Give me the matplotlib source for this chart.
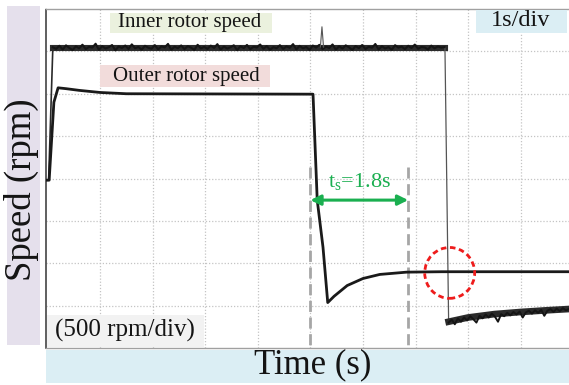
import numpy as np
import matplotlib
matplotlib.use("Agg")
import matplotlib.pyplot as plt
from matplotlib.patches import Rectangle, Ellipse

plt.rcParams['font.family'] = ['Liberation Serif', 'DejaVu Serif']
plt.rcParams['mathtext.fontset'] = 'custom'
plt.rcParams['mathtext.rm'] = 'Liberation Serif'
plt.rcParams['mathtext.it'] = 'Liberation Serif'

# ---------------- data (time in s, speed in rpm) ----------------
inner_t = [-0.03, 0.02, 0.10, 7.56, 7.63, 8.0, 8.5, 9.0, 9.5, 9.92]
inner_v = [-20, -20, 1545, 1545, -1690, -1640, -1600, -1575, -1555, -1540]

inner_run_v = [1548, 1530, 1566, 1522, 1571, 1541, 1515, 1560, 1536, 1579,
               1527, 1553, 1545, 1590, 1518, 1562, 1534, 1549, 1575, 1512,
               1558, 1540, 1569, 1528, 1583, 1537, 1551, 1520, 1566, 1543,
               1531, 1574, 1524, 1559, 1547, 1588, 1519, 1555, 1538, 1570,
               1526, 1562, 1544, 1516, 1578, 1535, 1553, 1529, 1568, 1541,
               1585, 1521, 1557, 1533, 1549, 1572, 1514, 1561, 1539, 1576,
               1525, 1555, 1546, 1581, 1530, 1563, 1518, 1550, 1537, 1573,
               1529, 1559, 1542, 1586, 1523, 1565, 1536, 1552, 1517, 1569,
               1545, 1577, 1527, 1556, 1540, 1582, 1520, 1560, 1533, 1571,
               1548, 1516, 1563, 1538, 1575, 1528, 1554, 1543, 1587, 1522,
               1561, 1534, 1550, 1519, 1573, 1544, 1557, 1526, 1566, 1539,
               1580, 1531, 1552, 1547, 1521, 1568, 1536, 1558, 1545, 1550]
spike_t = [5.19, 5.22, 5.25]
spike_v = [1550, 1790, 1550]

inner_rev_v = [-1700, -1665, -1720, -1650, -1690, -1640, -1675, -1625, -1660, -1700,
               -1620, -1650, -1605, -1640, -1595, -1630, -1690, -1600, -1625, -1585,
               -1615, -1575, -1605, -1570, -1640, -1580, -1560, -1595, -1555, -1585,
               -1550, -1620, -1560, -1540, -1575, -1535, -1565, -1530, -1555, -1540]

outer_t = [-0.03, 0.03, 0.12, 0.20, 0.35, 0.60, 1.00, 1.50, 5.05, 5.13, 5.24, 5.33,
           5.45, 5.70, 6.00, 6.32, 6.83, 7.50, 9.92]
outer_v = [-20, -20, 900, 1070, 1060, 1040, 1015, 1000, 995, -255, -812, -1464,
           -1390, -1263, -1180, -1132, -1105, -1100, -1100]

ts_start, ts_end = 5.00, 6.86
ts_label = "t$_\\mathrm{s}$=1.8s"
circle_t, circle_v = 7.65, -1114

# ---------------- figure geometry ----------------
W, H = 569, 385
fig = plt.figure(figsize=(W / 100, H / 100), dpi=100)
L, R, T, B = 46, 569, 9, 348
ax = fig.add_axes([L / W, 1 - B / H, (R - L) / W, (B - T) / H])
ax.set_xlim(-0.03, 9.92)
ax.set_ylim(-2000, 2000)
ax.set_xticks(np.arange(1, 10))
ax.set_yticks(np.arange(-1500, 2000, 500))
ax.tick_params(length=0, labelleft=False, labelbottom=False)
ax.grid(True, linestyle=(0, (1, 1.5)), color='#c4c4c4', linewidth=0.9)
ax.set_axisbelow(True)
for s in ['top', 'bottom']:
    ax.spines[s].set_color('#a0a0a0')
    ax.spines[s].set_linewidth(1.0)
ax.spines['right'].set_visible(False)
ax.spines['left'].set_color('#444444')
ax.spines['left'].set_linestyle((0, (2, 1)))
ax.spines['left'].set_linewidth(1.2)

# traces
ax.plot(inner_t[:4], inner_v[:4], color='#2a2a2a', lw=1.2, zorder=3)
ax.plot(inner_t[2:4], inner_v[2:4], color='#2b2b2b', lw=4.4, zorder=3)
ax.plot(inner_t[3:5], inner_v[3:5], color='#555555', lw=0.9, zorder=3)
ax.plot(inner_t[4:], inner_v[4:], color='#2b2b2b', lw=4.8, zorder=3)
run_t = np.linspace(0.10, 7.55, len(inner_run_v))
ax.plot(run_t, inner_run_v, color='#151515', lw=1.5, zorder=3)
ax.plot(spike_t, spike_v, color='#555555', lw=0.8, zorder=3)
rev_t = np.linspace(7.63, 9.92, len(inner_rev_v))
ax.plot(rev_t, inner_rev_v, color='#151515', lw=1.4, zorder=3)
ax.plot(outer_t, outer_v, color='#1a1a1a', lw=2.0, zorder=4)

# settling-time markers
for tt in (ts_start, ts_end):
    ax.plot([tt, tt], [136, -2000], color='#a6a6a6', lw=2.0,
            linestyle=(0, (4, 2)), zorder=2)
ax.annotate('', xy=(ts_start, -255), xytext=(ts_end, -255),
            arrowprops=dict(arrowstyle='<|-|>,head_length=0.6,head_width=0.3',
                            color='#1aaf50', lw=2.2, shrinkA=0, shrinkB=0), zorder=5)
ax.text((ts_start + ts_end) / 2, -30, ts_label, color='#1aaf50', fontsize=16,
        ha='center', va='center', zorder=5)

ax.add_patch(Ellipse((circle_t, circle_v), width=0.95, height=600, fill=False,
                     edgecolor='#ee1c1c', lw=2.0, linestyle=(0, (2, 1.3)), zorder=6))


# ---------------- decorative label boxes (figure pixels) ----------------
def box(x0, x1, y0, y1, color):
    fig.patches.append(Rectangle((x0 / W, 1 - y1 / H), (x1 - x0) / W, (y1 - y0) / H,
                                 transform=fig.transFigure, facecolor=color,
                                 edgecolor='none', zorder=1))


def label(x, y, s, size, rot=0):
    fig.text(x / W, 1 - y / H, s, fontsize=size, ha='center', va='center',
             rotation=rot, color='#141414', zorder=3)


box(110, 272, 13, 33, '#ebf1de')
label(190, 23, 'Inner rotor speed', 15)
box(100, 270, 65, 87, '#f2dcdb')
label(186, 76, 'Outer rotor speed', 15)
box(476, 567, 10, 33, '#dbeef4')
label(521, 21, '1s/div', 17.5)
box(47, 204, 315, 347, '#f2f2f2')
label(125, 330, '(500 rpm/div)', 18)
box(7, 40, 6, 345, '#e5e0ec')
label(21, 190, 'Speed (rpm)', 26.5, rot=90)
box(46, 569, 350, 383, '#dbeef4')
label(313, 365, 'Time (s)', 25)

fig.savefig('out.png', dpi=100)
